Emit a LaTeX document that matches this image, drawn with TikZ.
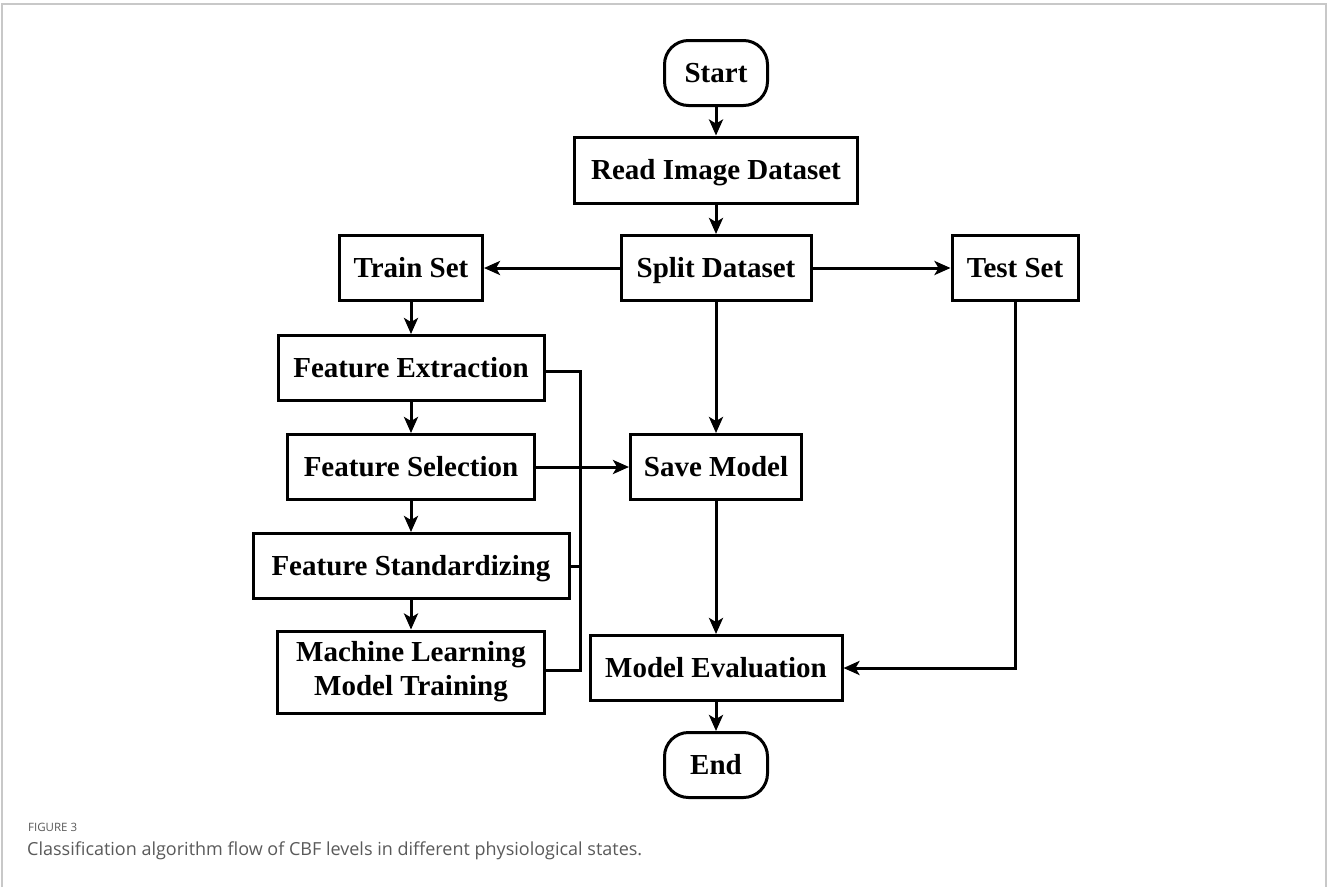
\documentclass[tikz,border=0pt]{standalone}
\usepackage{fontspec}
\setmainfont{Liberation Serif}
\newfontfamily\capfont{Open Sans}
\usetikzlibrary{arrows.meta}
\definecolor{framegray}{RGB}{200,200,200}
\definecolor{capgray}{RGB}{90,90,90}
\tikzset{
  box/.style={draw=black, line width=3pt, inner sep=0pt, align=center,
    font=\fontsize{29}{32}\selectfont\bfseries},
  sbox/.style={box, text height=22pt, text depth=4pt},
  term/.style={sbox, rounded corners=24pt},
  conn/.style={line width=3pt, -{Stealth[length=16pt,width=14pt,inset=4pt]}},
  line/.style={line width=3pt},
}
\begin{document}
\begin{tikzpicture}[x=1pt,y=-1pt]
\useasboundingbox (0,0) rectangle (1328,887);
\fill[white] (0,0) rectangle (1328,887);
\draw[framegray, line width=1.5pt] (2,887) -- (2,4) -- (1326,4) -- (1326,887);

\node[term, minimum width=103pt, minimum height=65pt] (start) at (716,73) {Start};
\node[sbox, minimum width=283pt, minimum height=66pt] (read) at (716,170) {Read Image Dataset};
\node[sbox, minimum width=190pt, minimum height=65pt] (split) at (716,268) {Split Dataset};
\node[sbox, minimum width=143pt, minimum height=65pt] (train) at (411,268) {Train Set};
\node[sbox, minimum width=126pt, minimum height=65pt] (test) at (1015,268) {Test Set};
\node[sbox, minimum width=266pt, minimum height=65pt] (fext) at (411,368) {Feature Extraction};
\node[sbox, minimum width=247pt, minimum height=65pt] (fsel) at (411,467) {Feature Selection};
\node[sbox, minimum width=171pt, minimum height=65pt] (save) at (716,467) {Save Model};
\node[sbox, minimum width=316pt, minimum height=65pt] (fstd) at (411,566) {Feature Standardizing};
\node[box, minimum width=267pt, minimum height=82pt, font=\fontsize{29}{34}\selectfont\bfseries] (mlt) at (411,672) {Machine Learning\\Model Training};
\node[sbox, minimum width=252pt, minimum height=65pt] (eval) at (716,668) {Model Evaluation};
\node[term, minimum width=103pt, minimum height=65pt] (end) at (716,765) {End};

\coordinate (bt) at (580,371);
\coordinate (bb) at (580,670);
\coordinate (bm) at (580,566);
\coordinate (tc) at (1015,668);

\draw[conn] (start) -- (read);
\draw[conn] (read) -- (split);
\draw[conn] (split) -- (train);
\draw[conn] (split) -- (test);
\draw[conn] (split) -- (save);
\draw[conn] (train) -- (fext);
\draw[conn] (fext) -- (fsel);
\draw[conn] (fsel) -- (fstd);
\draw[conn] (fstd) -- (mlt);
\draw[conn] (fsel) -- (save);
\draw[conn] (save) -- (eval);
\draw[conn] (eval) -- (end);
\draw[conn] (test) -- (tc) -- (eval);
\draw[line] (fext.east |- bt) -- (bt) -- (bb) -- (mlt.east |- bb);
\draw[line] (fstd.east |- bm) -- (bm);

\node[anchor=base west, inner sep=0pt, text=capgray, font=\capfont\fontsize{11.5}{14}\selectfont] (fig) at (28,831) {FIGURE 3};
\node[anchor=base west, inner sep=0pt, text=capgray, font=\capfont\fontsize{18}{20}\selectfont] (cap) at (27,855) {Classification algorithm flow of CBF levels in different physiological states.};
\end{tikzpicture}
\end{document}
